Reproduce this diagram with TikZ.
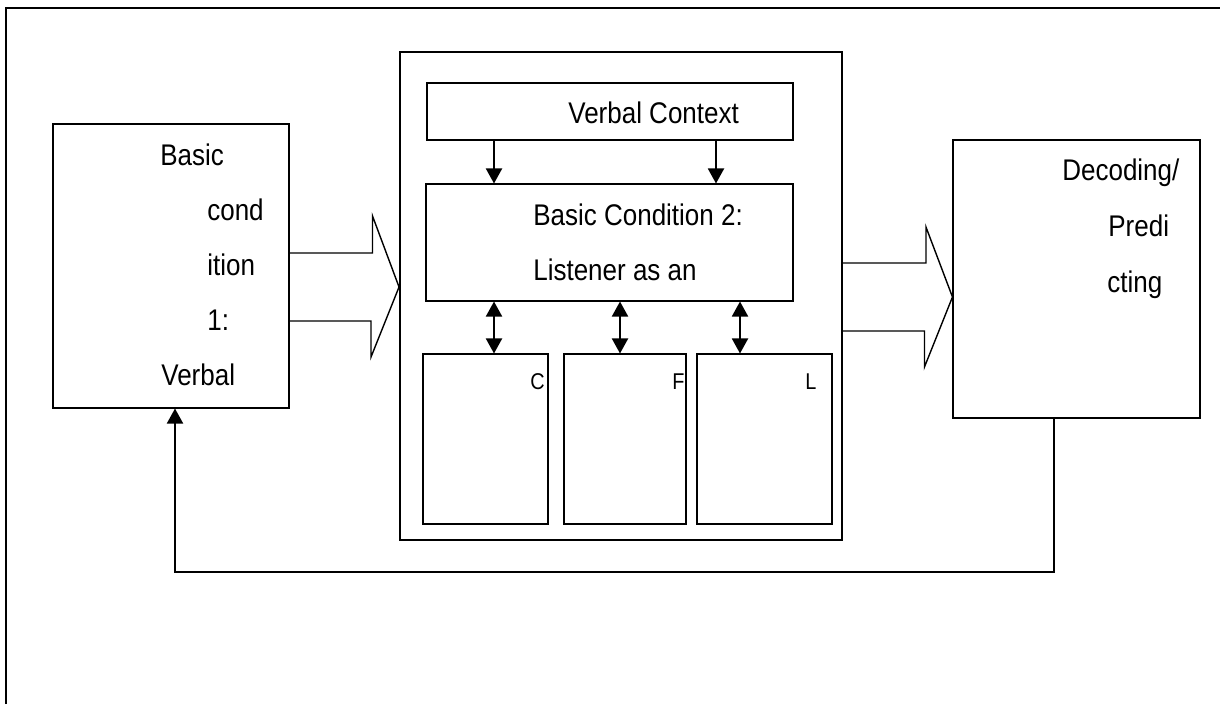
\documentclass[tikz,border=0pt]{standalone}
\usepackage{fontspec}
\newfontfamily\diagfont{Liberation Sans}[FakeStretch=0.87]
\usetikzlibrary{positioning,calc,arrows.meta}

\begin{document}
\begin{tikzpicture}[
    box/.style={draw, line width=0.6pt, inner sep=0pt},
    frame/.style={draw, line width=1.1pt, inner sep=0pt},
    txt/.style={font=\diagfont\fontsize{17}{20}\selectfont, inner sep=0pt, anchor=base west},
    letter/.style={font=\diagfont\fontsize{13}{15}\selectfont, inner sep=0pt, anchor=base west},
    arr/.style={-{Triangle[width=0.32cm,length=0.3cm]}, line width=1.1pt},
    dblarr/.style={{Triangle[width=0.32cm,length=0.3cm]}-{Triangle[width=0.32cm,length=0.3cm]}, line width=1.1pt},
    block/.style={line width=0.8pt}
]
    \useasboundingbox (0,0) rectangle (24.5,-14.08);
    \draw[frame] (0.12,-14.08) -- (0.12,-0.16) -- (24.4,-0.16);

    % boxes
    \node[box, minimum width=4.72cm, minimum height=5.68cm] (cond1) at (3.42,-5.32) {};
    \node[frame, minimum width=8.84cm, minimum height=9.76cm] (listen) at (12.42,-5.92) {};
    \node[box, minimum width=7.32cm, minimum height=1.14cm] (context) at (12.2,-2.23) {};
    \node[box, minimum width=7.34cm, minimum height=2.34cm] (cond2) at (12.19,-4.85) {};
    \node[box, minimum width=2.5cm, minimum height=3.4cm] (cbox) at (9.71,-8.78) {};
    \node[box, minimum width=2.44cm, minimum height=3.4cm] (fbox) at (12.5,-8.78) {};
    \node[box, minimum width=2.7cm, minimum height=3.4cm] (lbox) at (15.29,-8.78) {};
    \node[box, minimum width=4.94cm, minimum height=5.56cm] (decode) at (21.53,-5.58) {};

    % texts
    \foreach \t/\x [count=\i] in {Basic/3.2, cond/4.14, ition/4.14, 1:/4.14, Verbal/3.22}
        \node[txt] (cond1t\i) at (\x,{-2.2-1.1*\i}) {\t};
    \foreach \t/\x [count=\i] in {{Decoding/}/21.24, Predi/22.16, cting/22.14}
        \node[txt] (decodet\i) at (\x,{-2.48-1.12*\i}) {\t};
    \node[txt] (contextt) at (11.36,-2.46) {Verbal Context};
    \node[txt] (cond2t1) at (10.66,-4.5) {Basic Condition 2:};
    \node[txt] (cond2t2) at (10.66,-5.6) {Listener as an};
    \node[letter] (ct) at (10.6,-7.78) {C};
    \node[letter] (ft) at (13.44,-7.78) {F};
    \node[letter] (lt) at (16.1,-7.78) {L};

    % arrows
    \draw[arr] (context.south -| 9.88,0) -- (cond2.north -| 9.88,0);
    \draw[arr] (context.south -| 14.32,0) -- (cond2.north -| 14.32,0);
    \foreach \x/\b in {9.88/cbox, 12.4/fbox, 14.8/lbox}
        \draw[dblarr] (cond2.south -| \x,0) -- (\b.north -| \x,0);

    \draw[block] (cond1.east |- 0,-5.06) -- ++(1.66,0) -- ++(0,0.74) -- (listen.west |- 0,-5.74)
        -- ++(-0.56,-1.4) -- ++(0,0.72) -- (cond1.east |- 0,-6.42);
    \draw[block] (listen.east |- 0,-5.26) -- ++(1.66,0) -- ++(0,0.72) -- (decode.west |- 0,-5.94)
        -- ++(-0.56,-1.4) -- ++(0,0.72) -- (listen.east |- 0,-6.62);

    \coordinate (fbturn) at (3.5,-11.44);
    \draw[arr] (decode.south -| 21.08,0) |- (fbturn) -- (cond1.south -| fbturn);
\end{tikzpicture}
\end{document}
